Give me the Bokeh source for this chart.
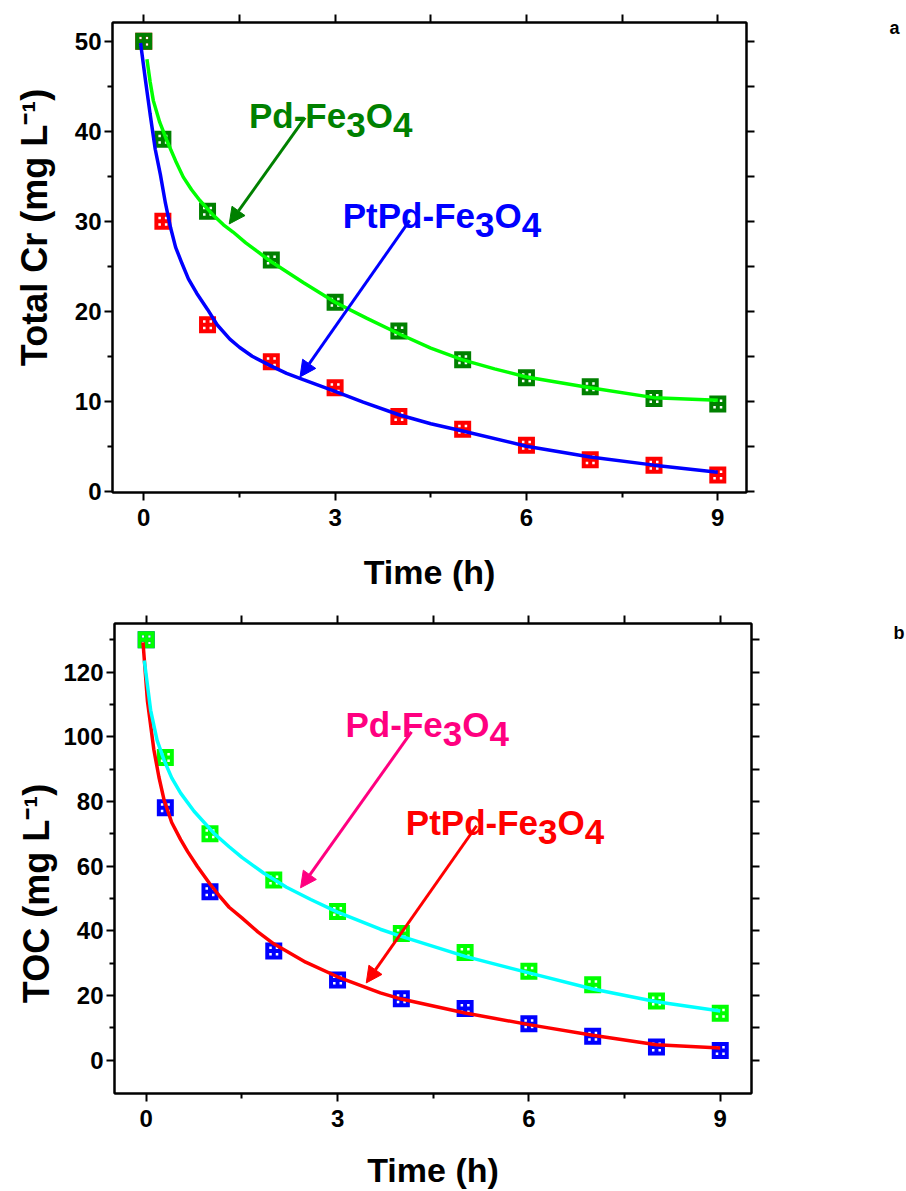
import math
from bokeh.plotting import figure
from bokeh.layouts import column, row
from bokeh.models import Range1d, LinearAxis, FixedTicker, Label, Arrow, NormalHead
from bokeh.embed import file_html
from bokeh.resources import INLINE

FONT = "Liberation Sans"
NB = "\u00a0"

# ---------------- data ----------------
time_h = [0, 0.3, 1, 2, 3, 4, 5, 6, 7, 8, 9]

# panel a: total Cr (mg/L)
cr_pd = [50.0, 39.1, 31.1, 25.7, 21.0, 17.8, 14.6, 12.6, 11.6, 10.3, 9.7]
cr_ptpd = [50.0, 30.0, 18.5, 14.4, 11.5, 8.3, 6.9, 5.1, 3.5, 2.9, 1.8]

cr_fit_pd_t = [0.05, 0.1, 0.15, 0.25, 0.36, 0.5, 0.62, 0.75, 0.88, 1.1, 1.25, 1.4, 1.6,
               1.77, 2.0, 2.5, 3.0, 3.5, 4.0, 4.5, 5.0, 5.5, 6.0, 7.0, 8.0, 9.0]
cr_fit_pd = [48.0, 45.5, 43.4, 41.0, 39.0, 36.7, 34.9, 33.5, 32.3, 30.6, 29.6, 28.8, 27.6,
             26.7, 25.5, 23.2, 21.0, 19.2, 17.5, 15.9, 14.6, 13.6, 12.7, 11.5, 10.4, 10.1]

cr_fit_ptpd_t = [-0.05, 0.03, 0.1, 0.18, 0.26, 0.34, 0.42, 0.5, 0.6, 0.7, 0.83, 1.0, 1.15,
                 1.35, 1.5, 1.7, 2.0, 2.24, 2.5, 3.0, 3.44, 4.0, 4.5, 5.0, 6.0, 7.0, 8.0, 9.0]
cr_fit_ptpd = [49.8, 45.5, 41.9, 38.0, 35.2, 32.0, 29.3, 27.1, 25.3, 23.6, 22.0, 20.2, 18.5,
               16.9, 16.0, 15.0, 13.9, 13.1, 12.4, 11.1, 9.9, 8.5, 7.5, 6.7, 5.0, 3.8, 2.9, 2.1]

# panel b: TOC (mg/L)
toc_pd = [130.0, 93.6, 70.0, 55.7, 46.0, 39.2, 33.3, 27.5, 23.3, 18.3, 14.5]
toc_ptpd = [130.0, 78.1, 52.1, 33.8, 24.8, 19.0, 16.0, 11.3, 7.4, 4.1, 3.0]

toc_fit_pd_t = [-0.03, 0.07, 0.17, 0.28, 0.4, 0.54, 0.75, 1.06, 1.3, 1.5, 1.84, 2.2, 2.58,
                3.0, 3.67, 4.0, 5.0, 6.0, 7.0, 8.0, 9.0]
toc_fit_pd = [123.6, 108.2, 99.0, 92.8, 87.3, 82.6, 77.0, 70.2, 66.0, 62.7, 57.9, 53.5,
              49.7, 45.8, 40.5, 38.3, 32.1, 27.0, 22.0, 18.1, 15.2]

toc_fit_ptpd_t = [-0.05, 0.02, 0.12, 0.2, 0.28, 0.4, 0.54, 0.65, 0.8, 1.0, 1.14, 1.3, 1.5,
                  1.75, 2.0, 2.5, 3.0, 3.67, 4.0, 5.0, 6.0, 7.0, 8.0, 9.0]
toc_fit_ptpd = [129.2, 111.0, 96.0, 87.5, 80.5, 73.5, 68.2, 64.5, 60.0, 54.5, 51.0, 47.3,
                44.0, 39.7, 36.0, 30.3, 25.8, 20.8, 18.9, 14.6, 11.0, 7.7, 4.8, 3.8]

# ticks
x_ticks = [0, 3, 6, 9]
x_minor = [1.5, 4.5, 7.5]
cr_ticks = [0, 10, 20, 30, 40, 50]
cr_minor = [5, 15, 25, 35, 45]
toc_ticks = [0, 20, 40, 60, 80, 100, 120]
toc_minor = [10, 30, 50, 70, 90, 110, 130]

# annotation arrows (data coordinates: x_start, y_start, x_end, y_end)
arrow_a_pd = [2.53, 41.5, 1.34, 29.7]
arrow_a_ptpd = [4.17, 30.1, 2.45, 12.7]
arrow_b_pd = [4.16, 101.5, 2.42, 53.3]
arrow_b_ptpd = [5.18, 72.5, 3.45, 23.9]

# Arial/Liberation Sans Bold advance widths (1/1000 em)
W = {'P': 667, 'd': 611, '-': 333, 'F': 611, 'e': 556, '3': 556, 'O': 778, '4': 556,
     't': 333}


def tw(s, size):
    return sum(W[c] for c in s) * size / 1000.0


def blank_fig(width, height):
    f = figure(width=width, height=height, x_range=Range1d(0, width),
               y_range=Range1d(0, height), output_backend="svg", toolbar_location=None,
               x_axis_location=None, y_axis_location=None, min_border=0,
               title_location=None)
    f.xgrid.visible = False
    f.ygrid.visible = False
    f.outline_line_color = None
    f.background_fill_color = "white"
    f.border_fill_color = "white"
    return f


def make_panel(width, height, fl, ft, fw, fh, xr, yr, yticks, yminor,
               ylab, ylab_standoff, xlab_standoff):
    p = figure(width=width, height=height, x_range=Range1d(*xr), y_range=Range1d(*yr),
               output_backend="svg", toolbar_location=None, title_location=None,
               min_border_left=fl, min_border_top=ft,
               min_border_right=width - fl - fw, min_border_bottom=height - ft - fh)
    p.xgrid.visible = False
    p.ygrid.visible = False
    p.outline_line_color = "black"
    p.outline_line_width = 2
    p.background_fill_color = "white"
    p.border_fill_color = "white"

    def style(ax, ticks, minor, labels, standoff=6):
        ax.axis_line_color = "black"
        ax.axis_line_width = 2
        ax.major_tick_line_width = 2
        ax.minor_tick_line_width = 2
        ax.major_tick_in = 0
        ax.minor_tick_in = 0
        ax.axis_label = None
        if labels:
            ax.ticker = FixedTicker(ticks=ticks, minor_ticks=minor)
            ax.major_tick_out = 8
            ax.minor_tick_out = 5
            ax.major_label_text_font = FONT
            ax.major_label_text_font_style = "bold"
            ax.major_label_text_font_size = "24px"
            ax.major_label_text_color = "black"
            ax.major_label_standoff = standoff
        else:
            # mirrored ticks only, no labels
            ax.ticker = FixedTicker(ticks=[], minor_ticks=sorted(ticks + minor))
            ax.major_tick_out = 0
            ax.minor_tick_out = 8

    style(p.below[0], x_ticks, x_minor, True, 8)
    style(p.left[0], yticks, yminor, True, 3)
    for ax, text, size, so in ((p.below[0], "Time (h)", 34, xlab_standoff),
                               (p.left[0], ylab, 36, ylab_standoff)):
        ax.axis_label = text
        ax.axis_label_text_font = FONT
        ax.axis_label_text_font_style = "bold"
        ax.axis_label_text_font_size = f"{size}px"
        ax.axis_label_text_color = "black"
        ax.axis_label_standoff = so
    top = LinearAxis()
    right = LinearAxis()
    style(top, x_ticks, x_minor, False)
    style(right, yticks, yminor, False)
    p.add_layout(top, "above")
    p.add_layout(right, "right")
    return p


def formula(p, pieces, x0, y0, color, size, sx, sy, shift=0.27):
    cur = x0
    for s, sub in pieces:
        p.add_layout(Label(x=cur, y=y0 - sub * shift * size / sy, text=s,
                           text_font=FONT, text_font_style="bold",
                           text_font_size=f"{size}px", text_color=color,
                           text_align="left", text_baseline="alphabetic"))
        cur += tw(s, size) / sx


def tag(f, text, x, y, size=18):
    f.add_layout(Label(x=x, y=y, text=text, text_font=FONT, text_font_style="bold",
                       text_font_size=f"{size}px", text_color="black",
                       text_align="left", text_baseline="alphabetic"))


def arrow(p, a, color):
    p.add_layout(Arrow(x_start=a[0], y_start=a[1], x_end=a[2], y_end=a[3],
                       line_color=color, line_width=3,
                       end=NormalHead(size=16, fill_color=color, line_color=color,
                                      line_width=1)))


def markers(p, x, y, color):
    p.scatter(x, y, marker="square_cross", size=13, line_width=4, line_color=color,
              fill_alpha=0, line_join="miter")


# ---------------- panel a ----------------
HA = 600
WA = 760
xa = (-0.49, 9.45)
ya = (-0.14, 52.08)
ylab_a = NB * 6 + "Total Cr (mg L\u207b\u00b9)"
pa = make_panel(WA, HA, 112, 22, 634, 470, xa, ya, cr_ticks, cr_minor, ylab_a, 17, 24)
sxa = 634 / (xa[1] - xa[0])
sya = 470 / (ya[1] - ya[0])

markers(pa, time_h, cr_ptpd, "#FF0000")
markers(pa, time_h, cr_pd, "#008000")
pa.line(cr_fit_ptpd_t, cr_fit_ptpd, line_color="#0000FF", line_width=3.5)
pa.line(cr_fit_pd_t, cr_fit_pd, line_color="#00FF00", line_width=3.5)
arrow(pa, arrow_a_pd, "#008000")
arrow(pa, arrow_a_ptpd, "#0000FF")

formula(pa, [("Pd-Fe", 0), ("3", 1), ("O", 0), ("4", 1)], 1.65, 41.7, "#008000", 35, sxa, sya)
formula(pa, [("PtPd-Fe", 0), ("3", 1), ("O", 0), ("4", 1)], 3.12, 30.6, "#0000FF", 35, sxa, sya)

taga = blank_fig(906 - WA, HA)
tag(taga, "a", 889 - WA, HA - 7)

# ---------------- panel b ----------------
HB = 591
WB = 761
xb = (-0.497, 9.49)
yb = (-10.3, 135.05)
ylab_b = "TOC (mg L\u207b\u00b9)" + NB * 7
pb = make_panel(WB, HB, 114, 23, 637, 472, xb, yb, toc_ticks, toc_minor, ylab_b, 3, 21)
sxb = 637 / (xb[1] - xb[0])
syb = 472 / (yb[1] - yb[0])

markers(pb, time_h, toc_ptpd, "#0000FF")
markers(pb, time_h, toc_pd, "#00FF00")
pb.line(toc_fit_ptpd_t, toc_fit_ptpd, line_color="#FF0000", line_width=3.5)
pb.line(toc_fit_pd_t, toc_fit_pd, line_color="#00FFFF", line_width=3.5)
arrow(pb, arrow_b_pd, "#FF0080")
arrow(pb, arrow_b_ptpd, "#FF0000")

formula(pb, [("Pd-Fe", 0), ("3", 1), ("O", 0), ("4", 1)], 3.125, 103.9, "#FF0080", 35, sxb, syb)
formula(pb, [("PtPd-Fe", 0), ("3", 1), ("O", 0), ("4", 1)], 4.07, 73.4, "#FF0000", 35, sxb, syb)

tagb = blank_fig(906 - WB, HB)
tag(tagb, "b", 893 - WB, HB - 12)

layout = column(row(pa, taga, spacing=0), row(pb, tagb, spacing=0), spacing=0)
open("out.html", "w").write(file_html(layout, INLINE))
